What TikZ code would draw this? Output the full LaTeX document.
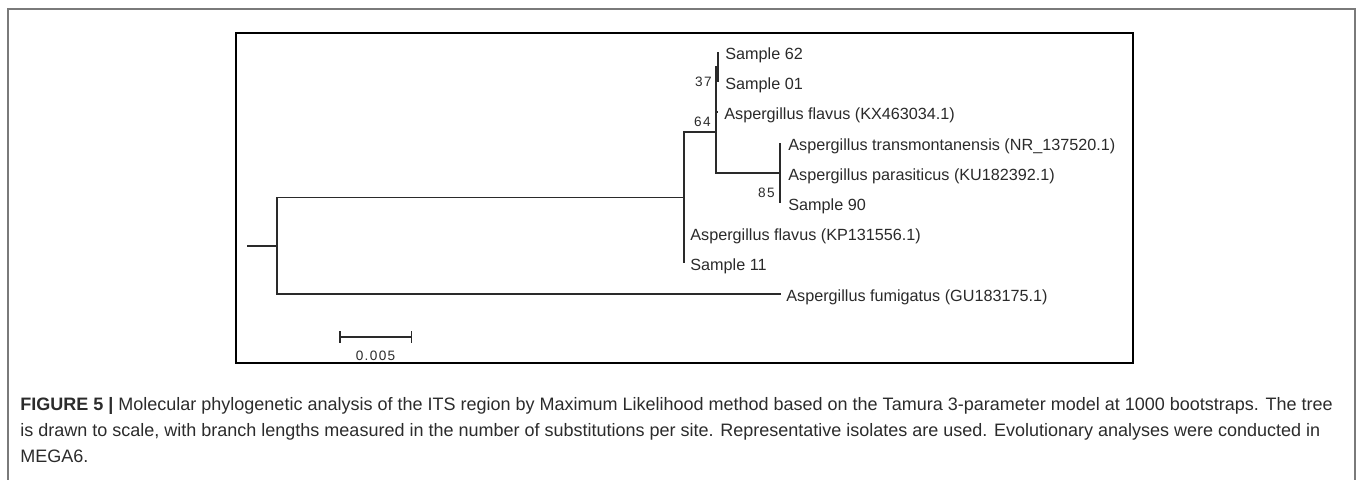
\documentclass[tikz,border=0pt]{standalone}
\usepackage{fontspec}
\setmainfont{Liberation Sans}
\newfontfamily\bootfont[LetterSpace=10]{Liberation Sans}
\usepackage{xcolor}
\usetikzlibrary{arrows.meta,positioning}
\definecolor{TreeInk}{HTML}{2A2A2A}
\definecolor{FrameGrey}{HTML}{7A7A7A}
\definecolor{CaptionInk}{HTML}{2B2B2B}

\begin{document}
\begin{tikzpicture}[x=0.5pt,y=-0.5pt,
  branch/.style={TreeInk,line width=0.75pt},
  taxon/.style={inner sep=0pt,text height=0.72em,text depth=0pt,text=TreeInk,font=\fontsize{8.1}{9}\selectfont},
  boot/.style={inner sep=0pt,text height=0.72em,text depth=0pt,text=TreeInk,font=\bootfont\fontsize{6.8}{7}\selectfont}]
  \useasboundingbox (0,0) rectangle (1358,480);
  \draw[FrameGrey,line width=1pt] (8,480) -- (8,9.5) -- (1355,9.5) -- (1355,480);
  \draw[black,line width=1.1pt] (236,33) rectangle (1133,363);

  \coordinate (stub) at (247,246);
  \coordinate (root) at (277,246);
  \coordinate (nFlavus) at (684,197.5);
  \coordinate (n64) at (716,132);
  \coordinate (n37) at (716,90);
  \coordinate (n01) at (718,67);
  \coordinate (n85) at (780,173);

  \coordinate (t62) at (718,52);
  \coordinate (t01) at (718,82);
  \coordinate (tKX) at (718,112);
  \coordinate (tNR) at (780,143);
  \coordinate (tKU) at (780,173);
  \coordinate (t90) at (780,203);
  \coordinate (tKP) at (684,233);
  \coordinate (t11) at (684,263);
  \coordinate (tGU) at (781,294);

  \draw[branch] (stub) -- (root);
  \draw[branch] (root) |- (nFlavus);
  \draw[branch] (root) |- (tGU);
  \draw[branch] (nFlavus) |- (n64);
  \draw[branch] (nFlavus) |- (tKP);
  \draw[branch] (nFlavus) |- (t11);
  \draw[branch] (n64) |- (n37);
  \draw[branch] (n64) |- (n85);
  \draw[branch] (n37) |- (n01);
  \draw[branch] (n37) |- (tKX);
  \draw[branch] (n01) |- (t62);
  \draw[branch] (n01) |- (t01);
  \draw[branch] (n85) |- (tNR);
  \draw[branch] (n85) |- (tKU);
  \draw[branch] (n85) |- (t90);

  \node[taxon,right=3.5pt of t62] (s62) {Sample 62};
  \node[taxon,right=3.5pt of t01] (s01) {Sample 01};
  \node[taxon,right=3pt of tKX] (kx) {Aspergillus flavus (KX463034.1)};
  \node[taxon,right=4pt of tNR] (nr) {Aspergillus transmontanensis (NR\_137520.1)};
  \node[taxon,right=4pt of tKU] (ku) {Aspergillus parasiticus (KU182392.1)};
  \node[taxon,right=4pt of t90] (s90) {Sample 90};
  \node[taxon,right=3pt of tKP] (kp) {Aspergillus flavus (KP131556.1)};
  \node[taxon,right=3pt of t11] (s11) {Sample 11};
  \node[taxon,right=2.5pt of tGU] (gu) {Aspergillus fumigatus (GU183175.1)};

  \node[boot,above left=1.5pt and 2pt of n37] (b37) {37};
  \node[boot,above left=2.5pt and 2.5pt of n64] (b64) {64};
  \node[boot,below left=5pt and 2.5pt of n85] (b85) {85};

  \coordinate (barL) at (339,337);
  \coordinate (barR) at (412,337);
  \draw[branch,{Bar[width=5.5pt]}-{Bar[width=5.5pt]}] (barL) -- (barR)
    coordinate[midway] (barMid);
  \node[boot,below=4.5pt of barMid] (barText) {0.005};

  \node[anchor=base west,align=left,inner sep=0pt,text=CaptionInk,
    font=\fontsize{9}{13}\selectfont] (caption) at (20,462)
    {\textbf{FIGURE 5 |} Molecular phylogenetic analysis of the ITS region by Maximum Likelihood method based on the Tamura 3-parameter model at 1000 bootstraps. The tree\\
     is drawn to scale, with branch lengths measured in the number of substitutions per site. Representative isolates are used. Evolutionary analyses were conducted in\\
     MEGA6.};
\end{tikzpicture}
\end{document}
